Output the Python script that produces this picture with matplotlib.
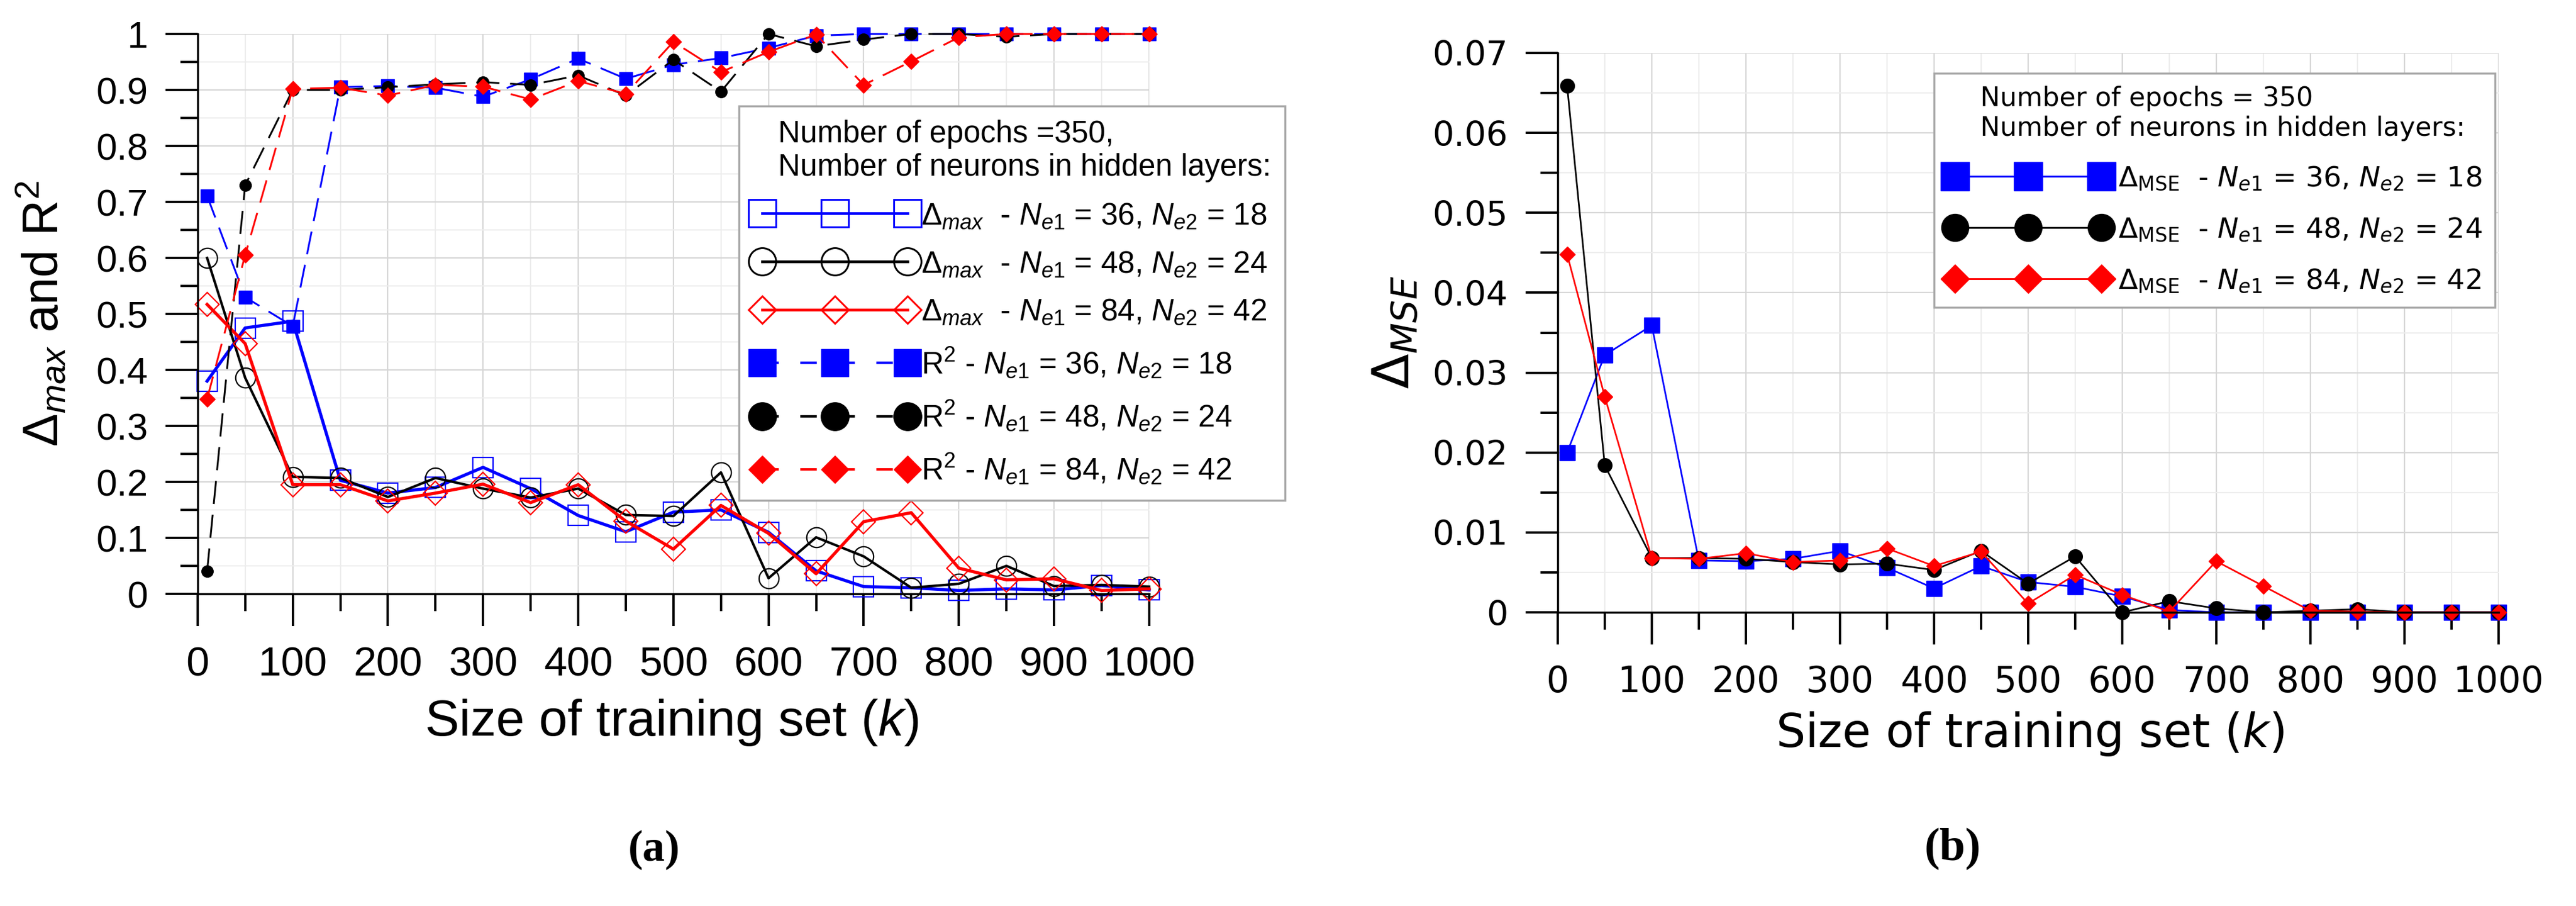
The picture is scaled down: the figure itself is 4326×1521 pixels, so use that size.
import matplotlib
matplotlib.use('Agg')
import matplotlib.pyplot as plt
from matplotlib.lines import Line2D
from matplotlib.ticker import MultipleLocator, FuncFormatter
from matplotlib.font_manager import FontProperties

# training set sizes (k)
sizes = [10, 50, 100, 150, 200, 250, 300, 350, 400, 450, 500,
         550, 600, 650, 700, 750, 800, 850, 900, 950, 1000]

# (a) delta max
dmax_36 = [0.38, 0.475, 0.487, 0.203, 0.180, 0.19, 0.226, 0.188, 0.14, 0.111, 0.146,
           0.15, 0.11, 0.041, 0.013, 0.011, 0.006, 0.009, 0.007, 0.015, 0.007]
dmax_48 = [0.6, 0.386, 0.209, 0.207, 0.173, 0.207, 0.188, 0.172, 0.188, 0.141, 0.139,
           0.217, 0.028, 0.101, 0.067, 0.011, 0.018, 0.05, 0.014, 0.016, 0.013]
dmax_84 = [0.517, 0.447, 0.195, 0.195, 0.166, 0.18, 0.196, 0.163, 0.195, 0.13, 0.08,
           0.158, 0.108, 0.036, 0.129, 0.145, 0.046, 0.025, 0.027, 0.006, 0.009]

# (a) R^2
r2_36 = [0.711, 0.53, 0.478, 0.905, 0.907, 0.904, 0.888, 0.919, 0.956, 0.92, 0.945,
         0.957, 0.975, 0.997, 1.0, 1.0, 1.0, 1.0, 1.0, 1.0, 1.0]
r2_48 = [0.04, 0.73, 0.9, 0.9, 0.905, 0.91, 0.914, 0.909, 0.926, 0.89, 0.954,
         0.897, 1.0, 0.978, 0.99, 1.0, 1.0, 0.995, 1.0, 1.0, 1.0]
r2_84 = [0.348, 0.605, 0.902, 0.904, 0.89, 0.909, 0.906, 0.883, 0.916, 0.893, 0.986,
         0.932, 0.968, 0.999, 0.909, 0.951, 0.994, 1.0, 1.0, 1.0, 1.0]

# (b) delta MSE
mse_36 = [0.0200, 0.0322, 0.0359, 0.0065, 0.0064, 0.0067, 0.0077, 0.0056, 0.0030, 0.0058, 0.0038,
          0.0032, 0.0020, 0.0003, 0.0, 0.0, 0.0, 0.0, 0.0, 0.0, 0.0]
mse_48 = [0.0659, 0.0184, 0.0068, 0.0068, 0.0067, 0.0063, 0.0060, 0.0061, 0.0053, 0.0077, 0.0036,
          0.0070, 0.0, 0.0014, 0.0005, 0.0, 0.0002, 0.0004, 0.0, 0.0, 0.0]
mse_84 = [0.0448, 0.0270, 0.0068, 0.0067, 0.0074, 0.0063, 0.0065, 0.0080, 0.0058, 0.0076, 0.0011,
          0.0047, 0.0022, 0.0001, 0.0064, 0.0033, 0.0002, 0.0001, 0.0, 0.0, 0.0]

neurons = ['$N_{\\mathit{e1}}$ = 36, $N_{\\mathit{e2}}$ = 18',
           '$N_{\\mathit{e1}}$ = 48, $N_{\\mathit{e2}}$ = 24',
           '$N_{\\mathit{e1}}$ = 84, $N_{\\mathit{e2}}$ = 42']
colors = ['#0000ff', '#000000', '#ff0000']

plt.rcParams['font.family'] = ['Liberation Sans', 'DejaVu Sans']
plt.rcParams['mathtext.fontset'] = 'custom'
plt.rcParams['mathtext.rm'] = 'Liberation Sans'
plt.rcParams['mathtext.it'] = 'Liberation Sans:italic'
plt.rcParams['mathtext.bf'] = 'Liberation Sans:bold'
plt.rcParams['lines.scale_dashes'] = False

fmt = FuncFormatter(lambda v, p: '%g' % round(v, 6))


def setup_axes(ax, ymax, ymajor, xsize, ysize, family):
    ax.set_xlim(0, 1000)
    ax.set_ylim(0, ymax)
    ax.xaxis.set_major_locator(MultipleLocator(100))
    ax.xaxis.set_minor_locator(MultipleLocator(50))
    ax.yaxis.set_major_locator(MultipleLocator(ymajor))
    ax.yaxis.set_minor_locator(MultipleLocator(ymajor / 2))
    ax.xaxis.set_major_formatter(fmt)
    ax.yaxis.set_major_formatter(fmt)
    ax.grid(which='major', color='#d6d6d6', lw=1.6)
    ax.grid(which='minor', color='#ededed', lw=1.6)
    ax.set_axisbelow(True)
    for s in ['top', 'right']:
        ax.spines[s].set_visible(False)
    for s in ['left', 'bottom']:
        ax.spines[s].set_linewidth(2.5)
    ax.tick_params(which='major', direction='out', length=39, width=2.8)
    ax.tick_params(which='minor', direction='out', length=21, width=2.8)
    ax.tick_params(axis='x', which='major', labelsize=xsize, pad=24, labelfontfamily=family)
    ax.tick_params(axis='y', which='major', labelsize=ysize, pad=21, labelfontfamily=family)


fig = plt.figure(figsize=(43.26, 15.21), dpi=100)

# ---------- (a) ----------
ax1 = fig.add_axes([0.0767, 0.3445, 0.3694, 0.618])
setup_axes(ax1, 1.0, 0.1, 50, 45, 'Liberation Sans')

open_marks = [('s', 24), ('o', 24), ('D', 20)]
fill_marks = [('s', 16), ('o', 14), ('D', 13)]
dmax_all = [dmax_36, dmax_48, dmax_84]
r2_all = [r2_36, r2_48, r2_84]
lws = [3.8, 3.0, 3.8]

for i in range(3):
    ax1.plot(sizes, dmax_all[i], color=colors[i], lw=lws[i], marker=open_marks[i][0],
             ms=open_marks[i][1], mfc='none', mec=colors[i], mew=1.6, clip_on=False)
for i in range(3):
    ax1.plot(sizes, r2_all[i], color=colors[i], lw=2.2, dashes=(28, 13),
             marker=fill_marks[i][0], ms=fill_marks[i][1], mfc=colors[i], mec=colors[i],
             clip_on=False)

ax1.set_xlabel('Size of training set ($k$)', fontsize=62)
ax1.xaxis.set_label_coords(0.498, -0.185)
ax1.set_ylabel('$\\Delta_{max}$ and R$^2$', fontsize=60)
ax1.yaxis.set_label_coords(-0.136, 0.5)

handles = []
labels = []
leg_open = [('s', 33), ('o', 33), ('D', 23)]
leg_fill = [('s', 33), ('o', 34), ('D', 23)]
for i in range(3):
    handles.append(Line2D([], [], color=colors[i], lw=3.3, marker=leg_open[i][0], ms=leg_open[i][1],
                          mfc='none', mec=colors[i], mew=2.2))
    labels.append('$\\Delta_{max}$  - ' + neurons[i])
for i in range(3):
    handles.append(Line2D([], [], color=colors[i], lw=3.0, dashes=(20, 26), marker=leg_fill[i][0],
                          ms=leg_fill[i][1], mfc=colors[i], mec=colors[i]))
    labels.append('R$^2$ - ' + neurons[i])

leg1 = ax1.legend(handles, labels, loc='upper left', bbox_to_anchor=(0.553, 0.899),
                  title='   Number of epochs =350,\n   Number of neurons in hidden layers:',
                  title_fontsize=37, fontsize=37, alignment='left', numpoints=3,
                  handlelength=5.35, handletextpad=0.15, labelspacing=0.62, borderpad=0.45,
                  fancybox=False, framealpha=1, edgecolor='#a8a8a8')
leg1.get_frame().set_linewidth(2.5)

# ---------- (b) ----------
ax2 = fig.add_axes([0.6047, 0.3241, 0.3652, 0.6174])
setup_axes(ax2, 0.07, 0.01, 43, 41, 'DejaVu Sans')

mse_all = [mse_36, mse_48, mse_84]
mse_marks = [('s', 19), ('o', 17), ('D', 13)]
for i in range(3):
    ax2.plot(sizes, mse_all[i], color=colors[i], lw=2.0, marker=mse_marks[i][0],
             ms=mse_marks[i][1], mfc=colors[i], mec=colors[i], clip_on=False)

ax2.set_xlabel('Size of training set ($k$)', fontsize=56, family='DejaVu Sans',
               math_fontfamily='dejavusans')
ax2.xaxis.set_label_coords(0.502, -0.175)
ax2.set_ylabel('$\\Delta_{MSE}$', fontsize=62, family='DejaVu Sans', math_fontfamily='dejavusans')
ax2.yaxis.set_label_coords(-0.146, 0.5)

handles2 = []
labels2 = []
leg_mse = [('s', 34), ('o', 33), ('D', 24)]
for i in range(3):
    handles2.append(Line2D([], [], color=colors[i], lw=2.2, marker=leg_mse[i][0], ms=leg_mse[i][1],
                           mfc=colors[i], mec=colors[i]))
    labels2.append('$\\Delta_{\\mathrm{MSE}}$  - ' + neurons[i])

prop2 = FontProperties(family='DejaVu Sans', size=34, math_fontfamily='dejavusans')
leg2 = ax2.legend(handles2, labels2, loc='upper left', bbox_to_anchor=(0.385, 0.989),
                  title='    Number of epochs = 350\n    Number of neurons in hidden layers:',
                  prop=prop2, alignment='left', numpoints=3,
                  handlelength=5.8, handletextpad=0.3, labelspacing=0.85, borderpad=0.45,
                  fancybox=False, framealpha=1, edgecolor='#a8a8a8')
leg2.get_title().set_fontproperties(FontProperties(family='DejaVu Sans', size=32))
leg2.get_frame().set_linewidth(2.5)

fig.text(1098 / 4326, 1 - 1427 / 1521, '(a)', family='Liberation Serif', weight='bold',
         fontsize=54, ha='center', va='center')
fig.text(3279 / 4326, 1 - 1426 / 1521, '(b)', family='Liberation Serif', weight='bold',
         fontsize=56, ha='center', va='center')

fig.savefig('out.png', dpi=100, facecolor='white')
